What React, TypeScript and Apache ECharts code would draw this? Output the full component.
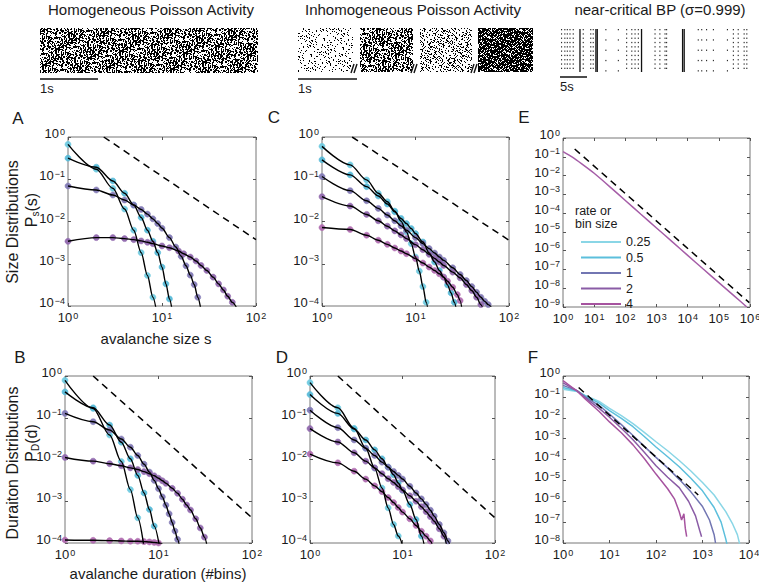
import React, { useEffect, useRef } from "react";
import * as echarts from "echarts";

const FONT = '"Liberation Sans", Arial, Helvetica, sans-serif';
const INK = "#1a1a1a";

// ---- series identities (rate or bin size) ----
const RATE_LABELS = ["0.25", "0.5", "1", "2", "4"];
const LINE_COLORS = ["#8ad6e6", "#5cbfdc", "#7276b2", "#8a5ca6", "#a6539f"];
const DOT_COLORS = ["#6fcae0", "#59bad8", "#8179b4", "#9068ad", "#b06cb0"];

// ---- Panel A: homogeneous Poisson, size distributions ----
const A_S1 = [1, 2, 3, 4, 5, 6, 7, 8];
const A_P1 = [0.668, 0.173, 0.0611, 0.0197, 0.00622, 0.00183, 0.000527, 0.000161];
const A_S2 = [1, 2, 3, 4, 5, 6, 7, 8, 9, 10, 11, 12];
const A_P2 = [0.316, 0.193, 0.0912, 0.0465, 0.0245, 0.01245, 0.00622, 0.0034, 0.00183, 0.000834, 0.000334, 0.000147];
const A_S3 = [1, 2, 3, 4, 5, 6, 7, 8, 9, 10, 12, 14, 16, 18, 20, 22, 24];
const A_P3 = [0.0693, 0.0557, 0.0424, 0.0322, 0.0245, 0.0193, 0.01496, 0.01156, 0.00895, 0.00693, 0.00416, 0.00249, 0.0015, 0.000895, 0.000537, 0.000322, 0.000161];
const A_S4 = [1, 2, 3, 4, 5, 6, 7, 8, 10, 12, 15, 17, 20, 23, 26, 30, 35, 40, 45, 50, 56];
const A_P4 = [0.0034, 0.00416, 0.00416, 0.00394, 0.00372, 0.00347, 0.00322, 0.00299, 0.00264, 0.0024, 0.002, 0.00173, 0.00144, 0.00116, 0.000912, 0.000693, 0.000482, 0.000334, 0.00024, 0.00017, 0.000122];
const A_FIT_END = [[9, 5e-5], [13, 6.5e-5], [26, 8e-5], [64, 8e-5]];
const A_REF = [[2.4, 1], [100, 0.0037]];

// ---- Panel C: inhomogeneous Poisson, size distributions ----
const C_S1 = [1, 2, 3, 4, 5, 6, 7, 8, 9, 10, 11, 12, 13];
const C_P1 = [0.6, 0.219, 0.0964, 0.0465, 0.0294, 0.0176, 0.0102, 0.00568, 0.00299, 0.00144, 0.000668, 0.000288, 0.000122];
const C_S2 = [1, 2, 3, 4, 5, 6, 7, 8, 9, 10, 12, 14, 16, 18, 20, 22, 24, 26];
const C_P2 = [0.288, 0.127, 0.0668, 0.0401, 0.0259, 0.017, 0.0118, 0.00895, 0.00681, 0.00518, 0.00328, 0.00179, 0.0011, 0.000693, 0.000482, 0.000316, 0.000204, 0.000122];
const C_S3 = [1, 2, 3, 4, 5, 6, 7, 8, 10, 12, 14, 16, 18, 20, 25, 30, 35, 40, 45, 50, 55, 60];
const C_P3 = [0.116, 0.0537, 0.031, 0.0204, 0.0142, 0.0104, 0.00789, 0.00622, 0.00416, 0.00299, 0.00228, 0.00179, 0.00144, 0.0012, 0.000804, 0.000557, 0.000401, 0.000288, 0.000211, 0.000161, 0.000129, 0.000108];
const C_S4 = [1, 2, 3, 4, 5, 6, 7, 8, 10, 12, 14, 16, 18, 20, 25, 30, 35, 40, 45, 50];
const C_P4 = [0.0386, 0.0232, 0.0147, 0.0104, 0.00774, 0.006, 0.00482, 0.00394, 0.00283, 0.00215, 0.00167, 0.00134, 0.0011, 0.000912, 0.000634, 0.000465, 0.000322, 0.000232, 0.000161, 0.000108];
const C_S5 = [1, 2, 3, 4, 5, 6, 7, 8, 10, 12, 14, 16, 18, 20, 22, 25, 28, 30];
const C_P5 = [0.0072, 0.00646, 0.00473, 0.0036, 0.00288, 0.00236, 0.002, 0.00173, 0.00132, 0.00104, 0.000834, 0.000693, 0.000578, 0.000482, 0.000386, 0.000278, 0.000186, 0.000134];
const C_FIT_END = [[14, 5e-5], [28, 6e-5], [70, 7e-5], [55, 6e-5], [32, 6e-5]];
const C_REF = [[2.1, 1], [100, 0.0036]];

// ---- Panel E: near-critical BP, size distribution (all bin sizes overlap) ----
const E_S = [1, 2, 4, 10, 32, 100, 316, 1000, 3160, 10000, 31600, 100000, 316000, 790000];
const E_P = [0.19, 0.0955, 0.0417, 0.0132, 0.00251, 0.000468, 8.7e-5, 1.62e-5, 3.02e-6, 5.62e-7, 1.05e-7, 2e-8, 3.8e-9, 1e-9];
const E_REF = [[2.37, 0.26], [950000, 1.7e-9]];

// ---- Panel B: homogeneous Poisson, duration distributions ----
const B_D1 = [1, 2, 3, 4, 5, 6];
const B_P1 = [0.789, 0.167, 0.0386, 0.00895, 0.0019, 0.000401];
const B_D2 = [1, 2, 3, 4, 5, 6, 7, 8, 9];
const B_P2 = [0.416, 0.173, 0.0668, 0.0259, 0.0104, 0.00416, 0.00158, 0.000634, 0.000254];
const B_D3 = [1, 2, 3, 4, 5, 6, 7, 8, 9, 10, 11, 12, 13, 14, 15, 16];
const B_P3 = [0.127, 0.0804, 0.0508, 0.031, 0.0197, 0.01245, 0.00774, 0.00499, 0.00316, 0.002, 0.00127, 0.000804, 0.000499, 0.00031, 0.000193, 0.000122];
const B_D4 = [1, 2, 3, 4, 5, 6, 7, 8, 9, 10, 11, 12, 14, 16, 18, 20, 22, 25, 28, 31];
const B_P4 = [0.0112, 0.00912, 0.00794, 0.00708, 0.00631, 0.00575, 0.00513, 0.00457, 0.00407, 0.00355, 0.00309, 0.00269, 0.00204, 0.00155, 0.00112, 0.000813, 0.000617, 0.00038, 0.000229, 0.000138];
const B_D5 = [1, 2, 3, 4, 5, 6, 7, 8, 9, 10];
const B_P5 = [0.000118, 0.000116, 0.000114, 0.000112, 0.00011, 0.00011, 0.000108, 0.000106, 0.000103, 0.0001];
const B_FIT_END = [[7, 8e-5], [10.5, 6e-5], [17, 7e-5], [34, 6e-5], [11, 9.5e-5]];
const B_REF = [[2, 1], [100, 0.0004]];

// ---- Panel D: inhomogeneous Poisson, duration distributions ----
const D_D1 = [1, 2, 3, 4, 5, 6, 7, 8, 9];
const D_P1 = [0.693, 0.173, 0.0557, 0.0186, 0.00622, 0.00207, 0.000693, 0.000278, 0.000147];
const D_D2 = [1, 2, 3, 4, 5, 6, 7, 8, 9, 10, 12, 14, 16];
const D_P2 = [0.36, 0.127, 0.0537, 0.0294, 0.017, 0.0104, 0.00656, 0.00431, 0.00274, 0.00183, 0.000834, 0.000366, 0.000147];
const D_D3 = [1, 2, 3, 4, 5, 6, 7, 8, 9, 10, 12, 14, 16, 18, 20, 22, 25, 28, 31];
const D_P3 = [0.152, 0.0578, 0.0294, 0.0186, 0.01245, 0.00865, 0.00656, 0.00518, 0.00416, 0.0034, 0.00228, 0.00158, 0.00114, 0.000834, 0.000611, 0.00044, 0.000278, 0.000176, 0.000112];
const D_D4 = [1, 2, 3, 4, 5, 6, 7, 8, 9, 10, 12, 14, 16, 18, 20, 22, 25, 28];
const D_P4 = [0.055, 0.0263, 0.0145, 0.00912, 0.00631, 0.00457, 0.00347, 0.00282, 0.00224, 0.00186, 0.00135, 0.001, 0.000741, 0.000562, 0.000427, 0.000331, 0.000219, 0.000145];
const D_D5 = [1, 2, 3, 4, 5, 6, 7, 8, 9, 10, 12, 14, 16, 18, 20];
const D_P5 = [0.0135, 0.00832, 0.00525, 0.00339, 0.00234, 0.0017, 0.00123, 0.000933, 0.000708, 0.00055, 0.00038, 0.000263, 0.000191, 0.000145, 0.000112];
const D_FIT_END = [[10.5, 6e-5], [18, 5e-5], [34, 6e-5], [31, 6e-5], [22, 6e-5]];
const D_REF = [[2, 1], [100, 0.0004]];

// ---- Panel F: near-critical BP, duration distributions per bin size ----
const F_D1 = [1, 2, 3, 6, 10, 18, 32, 56, 100, 178, 316, 562, 1000, 1778, 3162, 4467, 5623, 6310];
const F_P1 = [0.234, 0.182, 0.117, 0.0603, 0.0282, 0.0126, 0.00525, 0.002, 0.000708, 0.000263, 8.91e-5, 2.82e-5, 7.94e-6, 2e-6, 3.16e-7, 7.94e-8, 2.51e-8, 8.9e-9];
const F_D2 = [1, 2, 3, 6, 10, 18, 32, 56, 100, 178, 316, 562, 1000, 1778, 2512, 3162, 3388];
const F_P2 = [0.282, 0.191, 0.11, 0.0501, 0.0219, 0.00933, 0.00372, 0.00126, 0.000398, 0.000135, 4.47e-5, 1.26e-5, 3.16e-6, 5.01e-7, 1e-7, 1.58e-8, 7.9e-9];
const F_D3 = [1, 2, 3, 6, 10, 18, 32, 56, 100, 178, 316, 562, 1000, 1413, 1778, 1905];
const F_P3 = [0.355, 0.2, 0.1, 0.038, 0.0151, 0.00468, 0.00141, 0.000427, 0.000126, 3.98e-5, 1.12e-5, 2.82e-6, 5.62e-7, 1.26e-7, 2.51e-8, 1e-8];
const F_D4 = [1, 2, 3, 6, 10, 18, 32, 56, 100, 178, 316, 501, 708, 871, 955];
const F_P4 = [0.468, 0.2, 0.0891, 0.0282, 0.0105, 0.00316, 0.000891, 0.000224, 5.01e-5, 1.41e-5, 4.47e-6, 1e-6, 2e-7, 3.98e-8, 2e-8];
const F_D5 = [1, 2, 3, 6, 10, 18, 32, 56, 100, 178, 251, 316, 355, 398, 427, 457];
const F_P5 = [0.603, 0.191, 0.0794, 0.02, 0.00631, 0.0019, 0.000501, 0.000112, 2e-5, 3.98e-6, 1.26e-6, 3.16e-7, 1.26e-7, 2.51e-7, 5.01e-8, 2e-8];
const F_REF = [[2.17, 0.28], [810, 2e-6]];

// ---- rasters (top row) ----
// texture tile (32 x 16 bits) used for the Poisson spike rasters
const RASTER_TILE = ["9a3c5e71", "4e92b16d", "b5693ca2", "2d47e958", "e3b85a14", "5c1e7b93", "a6d2348f", "7941cd6a",
  "c83a96e5", "1f6d52b8", "6b95e13c", "d2479a76", "38eb6c19", "a51c7f42", "4e86b3d5", "b37a29c6"];
// inhomogeneous segments: spike densities low, medium, low-medium, high
const INHOM_DENSITY = ["eighth", "half", "quarter", "threeq"];
// near-critical BP: burst times (s) and burst kind (0 sparse, 1 dotted, 2 solid)
const BP_BURST_T = [0.3, 0.9, 1.35, 1.85, 2.45, 3.7, 4.3, 5.7, 6.15, 6.65, 6.9, 8.5, 10.8, 12.35, 13.3, 13.9, 14.5, 15.1, 17.6, 18.5, 19.45, 19.75, 22.7, 23.0, 25.6, 26.25, 27.15, 28.4, 31.0, 32.1, 33.0, 34.1, 34.6];
const BP_BURST_KIND = [1, 1, 1, 1, 1, 2, 1, 1, 1, 2, 2, 0, 0, 1, 1, 1, 1, 2, 1, 1, 1, 1, 2, 2, 0, 0, 0, 0, 0, 1, 1, 1, 1];

const TILE_ROWS = RASTER_TILE.map((h) => parseInt(h, 16));
function tileBit(x: number, y: number) {
  const row = TILE_ROWS[((y % 16) + 16) % 16];
  const col = ((x % 32) + 32) % 32;
  return (row >>> (31 - col)) & 1;
}
function layer(x: number, y: number, k: number) {
  return tileBit(x + k * 11 + (y >> 4) * 13, y + k * 5 + (x >> 5) * 7);
}
function rasterURL(w: number, h: number, mode: string, seed: number) {
  const c = document.createElement("canvas");
  c.width = w;
  c.height = h;
  const ctx = c.getContext("2d");
  if (!ctx) return "";
  ctx.fillStyle = "#000";
  for (let y = 0; y < h; y++) {
    for (let x = 0; x < w; x++) {
      const a = layer(x, y, seed), b = layer(x, y, seed + 1), d = layer(x, y, seed + 2);
      let on = 0;
      if (mode === "half") on = a ^ b;
      else if (mode === "quarter") on = a & b;
      else if (mode === "eighth") on = a & b & d;
      else if (mode === "threeq") on = a | b;
      if (on) ctx.fillRect(x, y, 1, 1);
    }
  }
  return c.toDataURL();
}

// ---- layout ----
const GRIDS = [
  { left: 68, top: 137, width: 188, height: 169, xMax: 100, yMin: 1e-4 }, // A
  { left: 322, top: 137, width: 187, height: 169, xMax: 100, yMin: 1e-4 }, // C
  { left: 563, top: 138, width: 187, height: 169, xMax: 1e6, yMin: 1e-9 }, // E
  { left: 65, top: 376, width: 187, height: 167, xMax: 100, yMin: 1e-4 }, // B
  { left: 310, top: 376, width: 185, height: 167, xMax: 100, yMin: 1e-4 }, // D
  { left: 563, top: 376, width: 186, height: 167, xMax: 1e4, yMin: 1e-8 }, // F
];

function pow10Label(v: number) {
  const e = Math.round(Math.log10(v));
  return `{b|10}{s|${e < 0 ? "\u2212" + -e : e}}`;
}
const RICH = {
  b: { fontSize: 13, fontFamily: FONT, color: INK, lineHeight: 20, verticalAlign: "top" },
  s: { fontSize: 9, fontFamily: FONT, color: INK, lineHeight: 10, verticalAlign: "top", padding: [0, 0, 0, 1] },
};

function pairs(xs: number[], ys: number[]) {
  return xs.map((x, i) => [x, ys[i]]);
}

function buildAxes() {
  const xAxis: any[] = [];
  const yAxis: any[] = [];
  GRIDS.forEach((g, gi) => {
    const tick = { show: true, inside: true, length: 3, lineStyle: { color: "#555", width: 1 } };
    const common = { type: "log", logBase: 10, gridIndex: gi, interval: 1, splitNumber: 10, splitLine: { show: false }, axisLine: { show: false }, axisTick: tick };
    xAxis.push({ ...common, min: 1, max: g.xMax, position: "bottom", axisLabel: { show: true, margin: 5, formatter: pow10Label, rich: RICH } });
    xAxis.push({ ...common, min: 1, max: g.xMax, position: "top", axisLabel: { show: false } });
    yAxis.push({ ...common, min: g.yMin, max: 1, position: "left", axisLabel: { show: true, margin: 3, formatter: pow10Label, rich: RICH } });
    yAxis.push({ ...common, min: g.yMin, max: 1, position: "right", axisLabel: { show: false } });
  });
  return { xAxis, yAxis };
}

function dots(gi: number, xs: number[], ps: number[], ci: number, name: string) {
  return {
    type: "scatter", name, xAxisIndex: 2 * gi, yAxisIndex: 2 * gi, silent: true, z: 2,
    data: pairs(xs, ps), symbol: "circle", symbolSize: 6,
    itemStyle: { color: DOT_COLORS[ci], borderColor: DOT_COLORS[ci], borderWidth: 0.6, opacity: 0.95 },
  };
}
function fit(gi: number, xs: number[], ps: number[], end: number[], name: string) {
  return {
    type: "line", name, xAxisIndex: 2 * gi, yAxisIndex: 2 * gi, silent: true, z: 3,
    data: [...pairs(xs, ps), end], symbol: "none", smooth: 0.3, smoothMonotone: "x",
    lineStyle: { color: "#000", width: 1.4 }, itemStyle: { color: "#000" },
  };
}
function refLine(gi: number, pts: number[][], name: string) {
  return {
    type: "line", name, xAxisIndex: 2 * gi, yAxisIndex: 2 * gi, silent: true, z: 4,
    data: pts, symbol: "none", lineStyle: { color: "#000", width: 1.5, type: [7, 5] }, itemStyle: { color: "#000" },
  };
}
function curve(gi: number, xs: number[], ps: number[], color: string, name: string, smooth: number) {
  return {
    type: "line", name, xAxisIndex: 2 * gi, yAxisIndex: 2 * gi, silent: true, z: 3, color,
    data: pairs(xs, ps), symbol: "none", smooth,
    lineStyle: { color, width: 1.5 }, itemStyle: { color },
  };
}

function panelSeries() {
  const s: any[] = [];
  // A
  const A = [[A_S1, A_P1], [A_S2, A_P2], [A_S3, A_P3], [A_S4, A_P4]];
  A.forEach(([x, p], i) => s.push(dots(0, x, p, i, "A dots " + i)));
  A.forEach(([x, p], i) => s.push(fit(0, x, p, A_FIT_END[i], "A fit " + i)));
  s.push(refLine(0, A_REF, "A ref"));
  // C
  const C = [[C_S1, C_P1], [C_S2, C_P2], [C_S3, C_P3], [C_S4, C_P4], [C_S5, C_P5]];
  C.forEach(([x, p], i) => s.push(dots(1, x, p, i, "C dots " + i)));
  C.forEach(([x, p], i) => s.push(fit(1, x, p, C_FIT_END[i], "C fit " + i)));
  s.push(refLine(1, C_REF, "C ref"));
  // E
  s.push(curve(2, E_S, E_P, "#a55da7", "E size", 0.2));
  s.push(refLine(2, E_REF, "E ref"));
  // B
  const B = [[B_D1, B_P1], [B_D2, B_P2], [B_D3, B_P3], [B_D4, B_P4], [B_D5, B_P5]];
  B.forEach(([x, p], i) => s.push(dots(3, x, p, i, "B dots " + i)));
  B.forEach(([x, p], i) => s.push(fit(3, x, p, B_FIT_END[i], "B fit " + i)));
  s.push(refLine(3, B_REF, "B ref"));
  // D
  const D = [[D_D1, D_P1], [D_D2, D_P2], [D_D3, D_P3], [D_D4, D_P4], [D_D5, D_P5]];
  D.forEach(([x, p], i) => s.push(dots(4, x, p, i, "D dots " + i)));
  D.forEach(([x, p], i) => s.push(fit(4, x, p, D_FIT_END[i], "D fit " + i)));
  s.push(refLine(4, D_REF, "D ref"));
  // F
  const F = [[F_D1, F_P1], [F_D2, F_P2], [F_D3, F_P3], [F_D4, F_P4], [F_D5, F_P5]];
  F.forEach(([x, p], i) => s.push(curve(5, x, p, LINE_COLORS[i], RATE_LABELS[i], 0)));
  s.push(refLine(5, F_REF, "F ref"));
  return s;
}

function txt(text: string, x: number, y: number, fontSize: number, extra: any = {}) {
  const { style: extraStyle, align, ...rest } = extra;
  return {
    type: "text", x, y, silent: true, z: 10, ...rest,
    style: { text, fontSize, fontFamily: FONT, fill: INK, align: align || "center", verticalAlign: "middle", ...(extraStyle || {}) },
  };
}
function seg(x1: number, y1: number, x2: number, y2: number, width: number, dash?: number[]) {
  return {
    type: "line", silent: true, z: 10,
    shape: { x1, y1, x2, y2 },
    style: { stroke: "#111", lineWidth: width, lineDash: dash || null },
  };
}
// vertical "P_sub(arg)" label, reading bottom to top, centred at (cx, cy)
function subscriptLabel(cx: number, cy: number, sub: string, arg: string, total: number, pW: number, subW: number) {
  const start = -total / 2;
  return {
    type: "group", x: cx, y: cy, rotation: Math.PI / 2, silent: true, z: 10,
    children: [
      { type: "text", x: start, y: 0, style: { text: "P", fontSize: 16, fontFamily: FONT, fill: INK, align: "left", verticalAlign: "middle" } },
      { type: "text", x: start + pW, y: 4, style: { text: sub, fontSize: 10, fontFamily: FONT, fill: INK, align: "left", verticalAlign: "middle" } },
      { type: "text", x: start + pW + subW, y: 0, style: { text: arg, fontSize: 16, fontFamily: FONT, fill: INK, align: "left", verticalAlign: "middle" } },
    ],
  };
}

function buildGraphics() {
  const g: any[] = [];
  // titles
  g.push(txt("Homogeneous Poisson Activity", 151, 9, 15));
  g.push(txt("Inhomogeneous Poisson Activity", 413, 9, 15));
  g.push(txt("near-critical BP (\u03c3=0.999)", 660, 9, 15));
  // rasters
  g.push({ type: "image", silent: true, style: { image: rasterURL(218, 45, "half", 0), x: 40, y: 28, width: 218, height: 45 } });
  const blocks = [[298, 55], [360, 53], [420, 52], [478, 55]];
  blocks.forEach(([x, w], i) => {
    g.push({ type: "image", silent: true, style: { image: rasterURL(w, 44, INHOM_DENSITY[i], i + 3), x, y: 28, width: w, height: 44 } });
  });
  // break marks
  [355, 415, 475].forEach((x) => {
    g.push(seg(x - 4, 73, x - 1, 64, 1.4));
    g.push(seg(x - 1, 73, x + 2, 64, 1.4));
  });
  // BP raster
  BP_BURST_T.forEach((t, i) => {
    const x = 560 + t * 5.4;
    const k = BP_BURST_KIND[i];
    g.push(seg(x, 29, x, 72, k === 2 ? 1.3 : 1, k === 2 ? undefined : k === 1 ? [1.3, 3] : [1.3, 9]));
  });
  // scale bars
  g.push(seg(40, 79, 98, 79, 1.5));
  g.push(txt("1s", 40, 88, 13, { align: "left" }));
  g.push(seg(298, 79, 357, 79, 1.5));
  g.push(txt("1s", 298, 88, 13, { align: "left" }));
  g.push(seg(560, 77, 587, 77, 1.5));
  g.push(txt("5s", 560, 86, 13, { align: "left" }));
  // panel letters
  [["A", 18, 118], ["C", 274, 117], ["E", 524, 117], ["B", 20, 357], ["D", 282, 357], ["F", 533, 357]].forEach(([l, x, y]) =>
    g.push(txt(l as string, x as number, y as number, 17))
  );
  // axis titles
  g.push(txt("avalanche size s", 156, 338, 15));
  g.push(txt("avalanche duration (#bins)", 158, 573, 15));
  g.push(txt("Size Distributions", 12, 222, 16, { rotation: Math.PI / 2 }));
  g.push(txt("Duraiton Distributions", 12, 463, 16, { rotation: Math.PI / 2 }));
  g.push(subscriptLabel(31, 210, "s", "(s)", 34.5, 10.7, 5));
  g.push(subscriptLabel(31, 443, "D", "(d)", 37.5, 10.7, 7.3));
  // legend heading in E
  g.push(txt("rate or", 575, 211, 12.5, { align: "left" }));
  g.push(txt("bin size", 575, 224, 12.5, { align: "left" }));
  return g;
}

function buildOption() {
  const { xAxis, yAxis } = buildAxes();
  return {
    animation: false,
    backgroundColor: "#fff",
    textStyle: { fontFamily: FONT },
    grid: GRIDS.map((g) => ({
      left: g.left, top: g.top, width: g.width, height: g.height,
      show: true, borderColor: "#777", borderWidth: 1, backgroundColor: "transparent",
      containLabel: false, outerBoundsMode: "none",
    })),
    xAxis,
    yAxis,
    legend: {
      show: true, orient: "vertical", left: 576, top: 230, itemWidth: 40, itemHeight: 2, itemGap: 1.5,
      icon: "rect", selectedMode: false, data: RATE_LABELS,
      textStyle: { fontSize: 12.5, fontFamily: FONT, color: INK, lineHeight: 14 },
    },
    series: panelSeries(),
    graphic: buildGraphics(),
  };
}

export default function App() {
  const ref = useRef<HTMLDivElement>(null);
  useEffect(() => {
    if (!ref.current) return;
    const chart = echarts.init(ref.current, null, { renderer: "svg" });
    chart.setOption(buildOption() as any);
    return () => chart.dispose();
  }, []);
  return <div ref={ref} style={{ position: "absolute", left: 0, top: 0, width: 759, height: 582 }} />;
}
